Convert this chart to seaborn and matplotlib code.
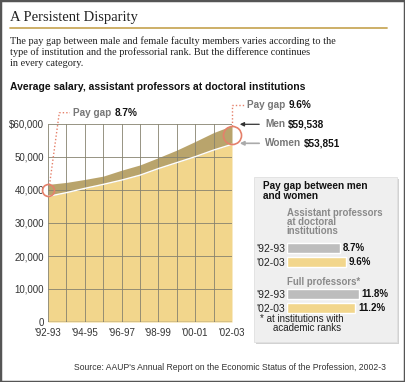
import numpy as np
import pandas as pd
import seaborn as sns
import matplotlib.pyplot as plt
from matplotlib.patches import Rectangle, FancyArrowPatch
from matplotlib.lines import Line2D

# salary data, assistant professors at doctoral institutions
years = ["'92-93", "'93-94", "'94-95", "'95-96", "'96-97", "'97-98",
         "'98-99", "'99-00", "'00-01", "'01-02", "'02-03"]
men = [41700, 42300, 43200, 44200, 46000, 47600, 49800, 52100, 54700, 57400, 59538]
women = [38070, 39200, 40500, 41700, 43000, 44500, 46500, 48300, 50100, 52100, 53851]

# inset: pay gap between men and women (%)
gap_years = ["'92-93", "'02-03"]
gap_assistant = [8.7, 9.6]
gap_full = [11.8, 11.2]

yellow = '#F2D68C'
brown = '#B9A46C'
gray_bar = '#BDBDBD'
orange = '#E5806A'

sns.set_style('white')
plt.rcParams['font.family'] = ['Liberation Sans', 'DejaVu Sans']

W, H = 405, 382
fig = plt.figure(figsize=(W / 100, H / 100), dpi=100)

def fx(px):
    return px / W

def fy(py):
    return 1 - py / H

# ---- header
fig.text(fx(10), fy(17), 'A Persistent Disparity', family='Liberation Serif',
         fontsize=10.5, color='#222', va='center')
fig.add_artist(Line2D([fx(10), fx(387)], [fy(28), fy(28)], color='#C9A95C', lw=1.3))
para = ['The pay gap between male and female faculty members varies according to the',
        'type of institution and the professorial rank. But the difference continues',
        'in every category.']
for i, line in enumerate(para):
    fig.text(fx(10), fy(41 + i * 11.3), line, family='Liberation Serif', fontsize=7.4,
             color='#222', va='center')
fig.text(fx(10), fy(87), 'Average salary, assistant professors at doctoral institutions',
         fontsize=7.5, fontweight='bold', color='#111', va='center')

# ---- inset box (behind everything)
fig.add_artist(Rectangle((fx(256), fy(344)), (397 - 254) / W, (342 - 177) / H,
                         transform=fig.transFigure, facecolor='#D2D2D2', lw=0,
                         zorder=-2))
fig.add_artist(Rectangle((fx(254), fy(342)), (397 - 254) / W, (342 - 177) / H,
                         transform=fig.transFigure, facecolor='#EFEFEF',
                         edgecolor='#E0E0E0', lw=0.6, zorder=-1))

# ---- main chart
ax = fig.add_axes([fx(48), fy(322), fx(232) - fx(48), (322 - 124) / H])
x = np.arange(len(years))
df = pd.DataFrame({'x': x, 'men': men, 'women': women})
ax.fill_between(df['x'], 0, df['women'], color=yellow, lw=0, zorder=1)
ax.fill_between(df['x'], df['women'], df['men'], color=brown, lw=0, zorder=1)
sns.lineplot(data=df, x='x', y='women', color='white', lw=1, ax=ax, zorder=4)

ax.set_xlim(0, 10)
ax.set_ylim(0, 60000)
ax.set_xticks(x)
ax.set_xticklabels([y if i % 2 == 0 else '' for i, y in enumerate(years)])
yt = [0, 10000, 20000, 30000, 40000, 50000, 60000]
ax.set_yticks(yt)
ax.set_yticklabels(['0', '10,000', '20,000', '30,000', '40,000', '50,000', '$60,000'])
ax.tick_params(length=0, labelsize=7, labelcolor='#333')
ax.tick_params(axis='y', pad=3)
ax.tick_params(axis='x', pad=4.5)
ax.grid(True, color='#86826f', lw=0.6)
ax.set_axisbelow(False)
ax.patch.set_alpha(0)
for s in ax.spines.values():
    s.set_visible(False)
ax.axhline(0, color='#666', lw=1, zorder=5)
ax.set_xlabel('')
ax.set_ylabel('')

# circles at the gap endpoints
ax.plot([0], [39900], 'o', ms=8.6, mfc='none', mec=orange, mew=1.2, clip_on=False, zorder=6)
ax.plot([10], [56700], 'o', ms=13, mfc='none', mec=orange, mew=1.2, clip_on=False, zorder=6)

# dotted leaders
fig.add_artist(Line2D([fx(49.5), fx(59.3), fx(70)], [fy(185), fy(112.7), fy(112.7)],
                      color=orange, lw=1, ls=(0, (1, 1.5))))
fig.add_artist(Line2D([fx(232), fx(232), fx(245)], [fy(126), fy(105), fy(105)],
                      color=orange, lw=1, ls=(0, (1, 1.5))))

def two_part(px, py, a, b, size=7.2):
    t1 = fig.text(fx(px), fy(py), a, fontsize=size, fontweight='bold', color='#777',
                  va='center')
    fig.canvas.draw()
    ext = t1.get_window_extent()
    fig.text(fx(ext.x1 + 3), fy(py), b, fontsize=size, fontweight='bold', color='#111',
             va='center')

two_part(73, 112.7, 'Pay gap', '8.7%')
two_part(247, 105, 'Pay gap', '9.6%')
two_part(265, 124.3, 'Men', '$59,538')
two_part(265, 143.3, 'Women', '$53,851')

fig.add_artist(FancyArrowPatch((fx(262), fy(124.3)), (fx(237), fy(124.3)),
                               transform=fig.transFigure, arrowstyle='-|>',
                               mutation_scale=6, color='#333', lw=0.9))
fig.add_artist(FancyArrowPatch((fx(262), fy(143.3)), (fx(237), fy(143.3)),
                               transform=fig.transFigure, arrowstyle='-|>',
                               mutation_scale=6, color='#aaa', lw=1.2))

# ---- inset texts
fig.text(fx(263), fy(186), 'Pay gap between men', fontsize=7.2, fontweight='bold',
         color='#111', va='center')
fig.text(fx(263), fy(195.7), 'and women', fontsize=7.2, fontweight='bold',
         color='#111', va='center')
for i, line in enumerate(['Assistant professors', 'at doctoral', 'institutions']):
    fig.text(fx(286.7), fy(213.3 + i * 8.9), line, fontsize=6.9, fontweight='bold',
             color='#8a8a8a', va='center')
fig.text(fx(286.7), fy(282.3), 'Full professors*', fontsize=6.9, fontweight='bold',
         color='#8a8a8a', va='center')
fig.text(fx(260), fy(319), '* at institutions with', fontsize=7, color='#222', va='center')
fig.text(fx(273), fy(328), 'academic ranks', fontsize=7, color='#222', va='center')

px_per_pct = 6.1
for vals, top in [(gap_assistant, 240.7), (gap_full, 287)]:
    iax = fig.add_axes([fx(287), fy(top + 28), 14 * px_per_pct / W, 28 / H])
    gdf = pd.DataFrame({'year': gap_years, 'gap': vals})
    sns.barplot(data=gdf, x='gap', y='year', hue='year', palette=[gray_bar, yellow],
                orient='h', width=0.71, legend=False, ax=iax, saturation=1)
    iax.set_xlim(0, 14)
    iax.set_ylim(1.5, -0.5)
    iax.patch.set_alpha(0)
    for s in iax.spines.values():
        s.set_visible(False)
    iax.set_xticks([])
    iax.tick_params(length=0, labelsize=7.5, labelcolor='#222', pad=1.5)
    iax.set_xlabel('')
    iax.set_ylabel('')
    for c in iax.containers:
        iax.bar_label(c, fmt='%.1f%%', padding=2, fontsize=7, fontweight='bold',
                      color='#111')

# ---- source + frame
fig.text(fx(386), fy(368), "Source: AAUP's Annual Report on the Economic Status of the Profession, 2002-3",
         fontsize=6.2, color='#333', ha='right', va='center')
fig.add_artist(Rectangle((0, 0), 1, 1, transform=fig.transFigure, fill=False,
                         edgecolor='#555', lw=2.5))

fig.savefig('out.png', dpi=100)
